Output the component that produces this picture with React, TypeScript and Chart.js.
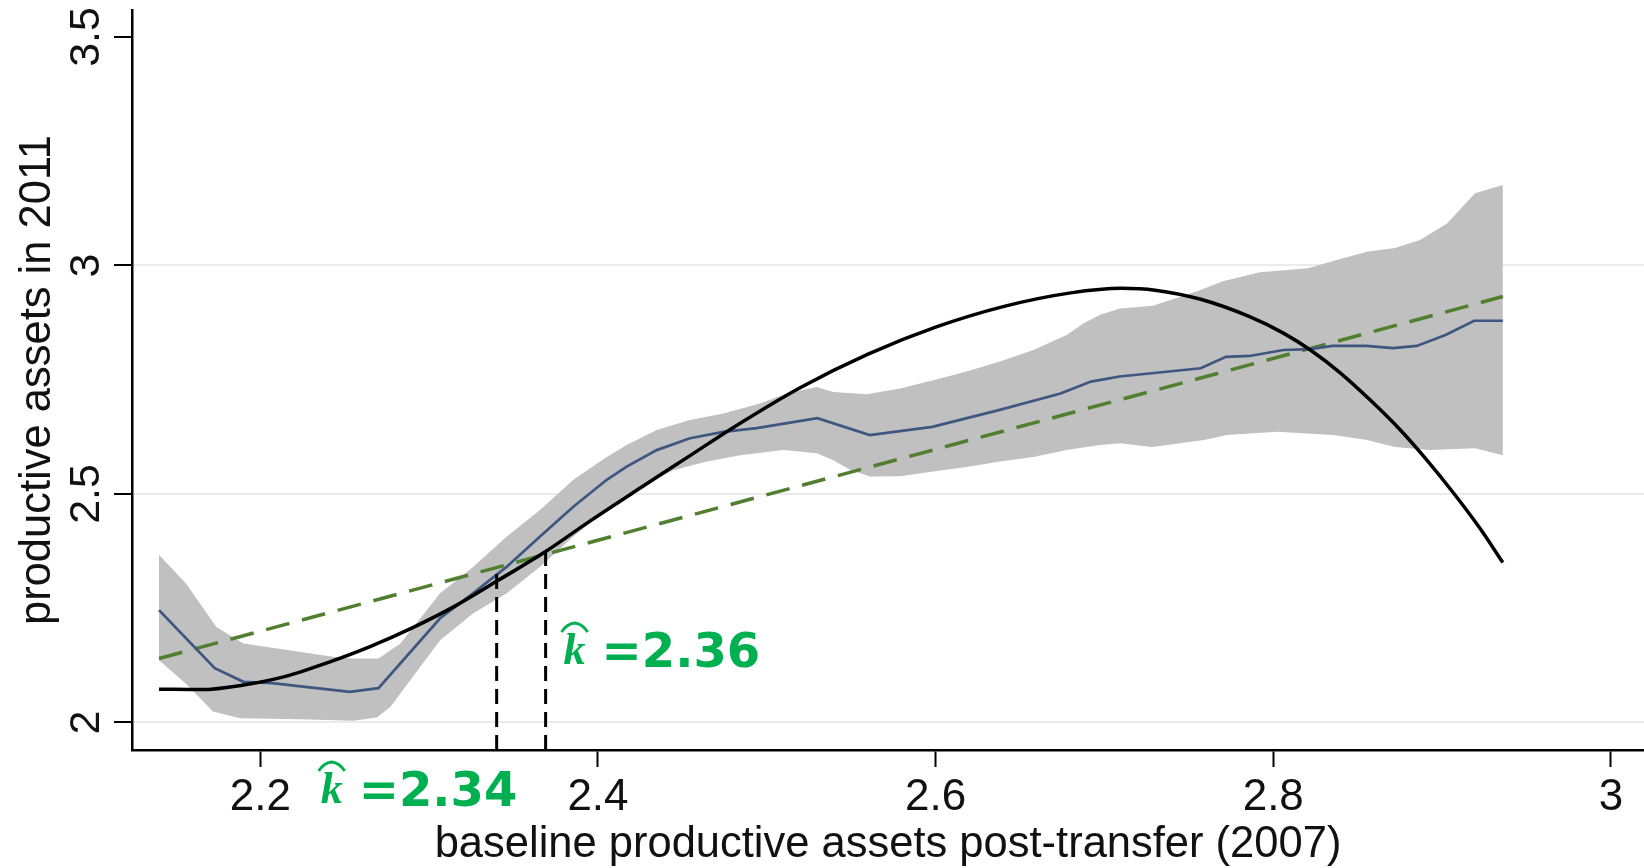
import { useEffect, useRef } from 'react';
import { Chart, registerables } from 'chart.js';

Chart.register(...registerables);

// ---- axes ----
const xLimits = [2.124, 3.0196];
const yLimits = [1.9398, 3.559];
const xTickValues = [2.2, 2.4, 2.6, 2.8, 3];
const xTickLabels = ['2.2', '2.4', '2.6', '2.8', '3'];
const yTickValues = [2, 2.5, 3, 3.5];
const yTickLabels = ['2', '2.5', '3', '3.5'];
const yGridValues = [2, 2.5, 3];
const xTitle = 'baseline productive assets post-transfer (2007)';
const yTitle = 'productive assets in 2011';

// ---- polynomial fit (black) ----
const fitX = [2.14, 2.165, 2.19, 2.215, 2.24, 2.265, 2.29, 2.315, 2.34, 2.369, 2.395, 2.425, 2.455, 2.48, 2.52, 2.56, 2.6, 2.64, 2.68, 2.71, 2.73, 2.757, 2.786, 2.806, 2.822, 2.84, 2.859, 2.875, 2.891, 2.907, 2.922, 2.936];
const fitY = [2.073, 2.072, 2.082, 2.101, 2.131, 2.166, 2.207, 2.254, 2.309, 2.374, 2.44, 2.513, 2.585, 2.645, 2.733, 2.806, 2.865, 2.91, 2.94, 2.95, 2.946, 2.926, 2.888, 2.852, 2.815, 2.764, 2.7, 2.641, 2.574, 2.501, 2.427, 2.35];

// ---- local mean (blue) ----
const meanX = [2.14, 2.173, 2.19, 2.207, 2.253, 2.27, 2.3065, 2.3262, 2.346, 2.3657, 2.3854, 2.4052, 2.417, 2.4348, 2.4545, 2.4743, 2.494, 2.53, 2.561, 2.598, 2.638, 2.674, 2.692, 2.709, 2.757, 2.772, 2.786, 2.806, 2.822, 2.835, 2.855, 2.871, 2.885, 2.902, 2.919, 2.936];
const meanY = [2.246, 2.119, 2.089, 2.086, 2.067, 2.075, 2.228, 2.283, 2.341, 2.407, 2.472, 2.531, 2.56, 2.596, 2.622, 2.636, 2.644, 2.666, 2.629, 2.647, 2.684, 2.72, 2.746, 2.757, 2.775, 2.8, 2.802, 2.815, 2.817, 2.824, 2.824, 2.819, 2.824, 2.848, 2.879, 2.879];

// ---- confidence band (grey) ----
const upperX = [2.14, 2.156, 2.174, 2.19, 2.224, 2.243, 2.255, 2.27, 2.283, 2.3065, 2.3262, 2.346, 2.3657, 2.3854, 2.4052, 2.417, 2.4348, 2.4545, 2.4743, 2.496, 2.5118, 2.5296, 2.5394, 2.5592, 2.5789, 2.5986, 2.6184, 2.6381, 2.6579, 2.6776, 2.6875, 2.6974, 2.7092, 2.7288, 2.7566, 2.7696, 2.7921, 2.8205, 2.8413, 2.8555, 2.8721, 2.8869, 2.9029, 2.9195, 2.936];
const upperY = [2.367, 2.304, 2.209, 2.173, 2.154, 2.144, 2.14, 2.14, 2.173, 2.283, 2.341, 2.407, 2.465, 2.531, 2.581, 2.607, 2.64, 2.662, 2.676, 2.698, 2.72, 2.734, 2.723, 2.718, 2.731, 2.749, 2.768, 2.79, 2.815, 2.848, 2.873, 2.892, 2.906, 2.912, 2.946, 2.965, 2.985, 2.994, 3.016, 3.03, 3.038, 3.056, 3.092, 3.158, 3.176];
const lowerX = [2.14, 2.156, 2.172, 2.188, 2.224, 2.255, 2.269, 2.277, 2.3065, 2.3262, 2.346, 2.3657, 2.3854, 2.4052, 2.4249, 2.4447, 2.4644, 2.4842, 2.5098, 2.5296, 2.5394, 2.5493, 2.5611, 2.5789, 2.5986, 2.6184, 2.6381, 2.6579, 2.6776, 2.6974, 2.7092, 2.7282, 2.759, 2.7726, 2.8022, 2.8354, 2.8555, 2.8721, 2.8928, 2.9195, 2.936];
const lowerY = [2.136, 2.085, 2.024, 2.009, 2.007, 2.004, 2.011, 2.034, 2.18, 2.239, 2.283, 2.341, 2.407, 2.465, 2.516, 2.552, 2.571, 2.585, 2.596, 2.589, 2.574, 2.553, 2.538, 2.539, 2.549, 2.559, 2.571, 2.581, 2.596, 2.607, 2.611, 2.603, 2.618, 2.629, 2.636, 2.629, 2.618, 2.603, 2.596, 2.6, 2.585];

// ---- linear fit (green dashed) ----
const linX = [2.14, 2.936];
const linY = [2.14, 2.932];

// ---- thresholds ----
const kValues = [2.34, 2.369];
const kTops = [2.339, 2.374];
const kLabels = ['2.34', '2.36'];

const pts = (xs: number[], ys: number[]) => xs.map((x, i) => ({ x, y: ys[i] }));

const SANS = "'Liberation Sans', Arial, sans-serif";
const GREEN = '#00b050';

function drawKLabel(ctx: CanvasRenderingContext2D, kx: number, base: number, value: string) {
  ctx.save();
  ctx.fillStyle = GREEN;
  ctx.strokeStyle = GREEN;
  ctx.textAlign = 'left';
  ctx.textBaseline = 'alphabetic';
  ctx.font = "italic bold 44px 'Liberation Serif', serif";
  ctx.fillText('k', kx + 1, base);
  const x0 = kx - 1;
  const x1 = kx + 25;
  const xm = (x0 + x1) / 2;
  const yb = base - 32;
  const yt = base - 41;
  ctx.lineWidth = 3;
  ctx.lineJoin = 'round';
  ctx.beginPath();
  ctx.moveTo(x0, yb);
  ctx.quadraticCurveTo(x0 + 5, yt + 1, xm, yt);
  ctx.quadraticCurveTo(x1 - 5, yt + 1, x1, yb);
  ctx.stroke();
  ctx.font = "bold 48px 'DejaVu Sans', Verdana, sans-serif";
  ctx.fillText('=' + value, kx + 39, base + 3);
  ctx.restore();
}

const overlayPlugin = {
  id: 'overlay',
  afterDraw(chart: any) {
    const ctx: CanvasRenderingContext2D = chart.ctx;
    const ys = chart.scales.y;
    const xs = chart.scales.x;
    const area = chart.chartArea;
    ctx.save();
    ctx.fillStyle = '#111';
    ctx.font = `43px ${SANS}`;
    ctx.textAlign = 'center';
    ctx.textBaseline = 'middle';
    yTickValues.forEach((v, i) => {
      const py = ys.getPixelForValue(v);
      ctx.save();
      ctx.translate(87, py);
      ctx.rotate(-Math.PI / 2);
      ctx.fillText(yTickLabels[i], 0, 0);
      ctx.restore();
    });
    ctx.restore();
    const pA = xs.getPixelForValue(kValues[0]);
    const pB = xs.getPixelForValue(kValues[1]);
    drawKLabel(ctx, pB + 17, area.bottom - 86, kLabels[1]);
    drawKLabel(ctx, pA - 177, area.bottom + 53, kLabels[0]);
  },
};

export default function App() {
  const ref = useRef<HTMLCanvasElement | null>(null);

  useEffect(() => {
    if (!ref.current) return;
    const chart = new Chart(ref.current, {
      type: 'line',
      data: {
        datasets: [
          {
            label: 'quadratic fit',
            data: pts(fitX, fitY),
            borderColor: '#000000',
            borderWidth: 3.5,
            pointRadius: 0,
            cubicInterpolationMode: 'monotone',
            fill: false,
          },
          {
            label: 'k1',
            data: [
              { x: kValues[0], y: yLimits[0] },
              { x: kValues[0], y: kTops[0] },
            ],
            borderColor: '#000000',
            borderWidth: 3,
            borderDash: [15, 8],
            pointRadius: 0,
            fill: false,
          },
          {
            label: 'k2',
            data: [
              { x: kValues[1], y: yLimits[0] },
              { x: kValues[1], y: kTops[1] },
            ],
            borderColor: '#000000',
            borderWidth: 3,
            borderDash: [15, 8],
            pointRadius: 0,
            fill: false,
          },
          {
            label: 'local mean',
            data: pts(meanX, meanY),
            borderColor: '#3e5680',
            borderWidth: 2.7,
            pointRadius: 0,
            tension: 0,
            fill: false,
          },
          {
            label: 'linear fit',
            data: pts(linX, linY),
            borderColor: '#4f7f2f',
            borderWidth: 3.5,
            borderDash: [24, 13],
            pointRadius: 0,
            fill: false,
          },
          {
            label: 'upper',
            data: pts(upperX, upperY),
            borderColor: 'rgba(0,0,0,0)',
            borderWidth: 0,
            backgroundColor: '#c0c0c0',
            pointRadius: 0,
            tension: 0,
            fill: '+1',
          },
          {
            label: 'lower',
            data: pts(lowerX, lowerY),
            borderColor: 'rgba(0,0,0,0)',
            borderWidth: 0,
            backgroundColor: '#c0c0c0',
            pointRadius: 0,
            tension: 0,
            fill: false,
          },
        ],
      },
      options: {
        animation: false,
        responsive: false,
        devicePixelRatio: 1,
        layout: { padding: { top: 10, left: 0, right: 0, bottom: 0 } },
        plugins: {
          legend: { display: false },
          tooltip: { enabled: false },
          title: { display: false },
        },
        scales: {
          x: {
            type: 'linear',
            min: xLimits[0],
            max: xLimits[1],
            afterBuildTicks: (scale: any) => {
              scale.ticks = xTickValues.map((v) => ({ value: v }));
            },
            afterFit: (scale: any) => {
              scale.height = 118;
            },
            ticks: {
              autoSkip: false,
              maxRotation: 0,
              minRotation: 0,
              padding: 9,
              color: '#111',
              font: { family: SANS, size: 44, lineHeight: 1 },
              callback: (v: any) => {
                const i = xTickValues.indexOf(Number(v));
                return i >= 0 ? xTickLabels[i] : '';
              },
            },
            grid: {
              display: true,
              drawOnChartArea: false,
              drawTicks: true,
              tickLength: 17,
              tickWidth: 2,
              tickColor: '#000',
              color: 'rgba(0,0,0,0)',
            },
            border: { display: true, color: '#000', width: 2.5 },
            title: {
              display: true,
              text: xTitle,
              color: '#111',
              font: { family: SANS, size: 43.5, lineHeight: 1 },
              padding: { top: 0, bottom: 1 },
            },
          },
          y: {
            type: 'linear',
            min: yLimits[0],
            max: yLimits[1],
            afterBuildTicks: (scale: any) => {
              scale.ticks = yTickValues.map((v) => ({ value: v }));
            },
            afterFit: (scale: any) => {
              scale.width = 132;
            },
            ticks: { display: false },
            grid: {
              display: true,
              drawOnChartArea: true,
              drawTicks: true,
              tickLength: 18,
              tickWidth: 2,
              tickColor: '#000',
              lineWidth: 2,
              color: (c: any) =>
                c.tick && yGridValues.includes(c.tick.value) ? '#ebebeb' : 'rgba(0,0,0,0)',
            },
            border: { display: true, color: '#000', width: 2.5 },
            title: {
              display: true,
              text: yTitle,
              color: '#111',
              font: { family: SANS, size: 43.5, lineHeight: 1 },
              padding: { top: 16, bottom: 0 },
            },
          },
        },
      },
      plugins: [overlayPlugin],
    } as any);
    return () => chart.destroy();
  }, []);

  return (
    <div style={{ position: 'fixed', left: 0, top: 0, width: 1644, height: 868, background: '#fff' }}>
      <canvas ref={ref} width={1644} height={868} style={{ width: 1644, height: 868, display: 'block' }} />
    </div>
  );
}
